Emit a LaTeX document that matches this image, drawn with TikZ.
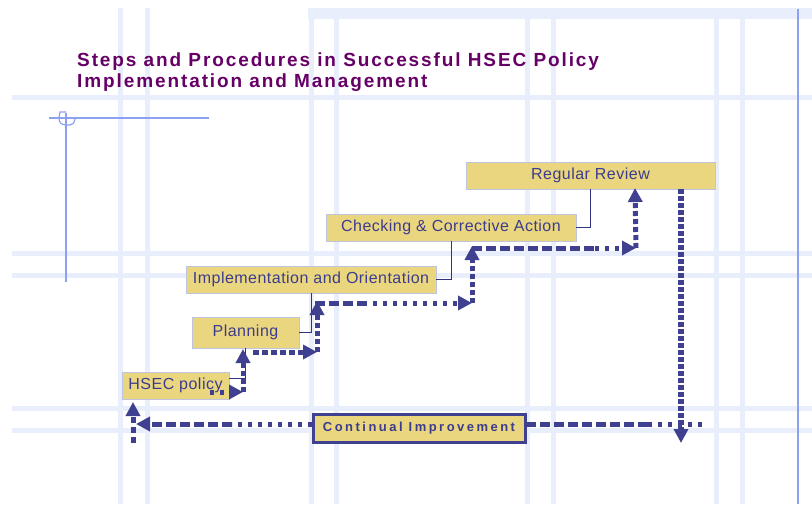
\documentclass[tikz,border=0pt]{standalone}
\usepackage{fontspec}
\setmainfont{Liberation Sans}
\newfontfamily\titlefont{Liberation Sans}[LetterSpace=10]
\newfontfamily\boxfont{Liberation Sans}[LetterSpace=3]
\newfontfamily\widefont{Liberation Sans}[LetterSpace=19]
\usetikzlibrary{arrows.meta}
\definecolor{gridcol}{RGB}{233,238,252}
\definecolor{titlecol}{RGB}{102,0,102}
\definecolor{boxfill}{RGB}{235,214,128}
\definecolor{boxborder}{RGB}{190,196,222}
\definecolor{boxtext}{RGB}{60,60,140}
\definecolor{arrowcol}{RGB}{64,64,144}
\definecolor{thincol}{RGB}{50,50,130}
\definecolor{markcol}{RGB}{140,162,240}
\tikzset{
  gridline/.style={draw=gridcol, line width=5pt},
  stepbox/.style={draw=boxborder, fill=boxfill, line width=0.8pt, text=boxtext,
    font=\boxfont\fontsize{16}{18}\selectfont, inner sep=0pt, minimum height=27pt},
  thinconn/.style={draw=thincol, line width=1pt},
  thk/.style={draw=arrowcol, line width=5pt},
  tip/.style={-{Triangle[width=14pt,length=14pt]}},
  longdash/.style={dash pattern=on 10pt off 4pt},
  dotpat/.style={dash pattern=on 4pt off 6pt},
  vdash/.style={dash pattern=on 5pt off 3pt},
  sqdot/.style={dash pattern=on 6pt off 3pt},
  marker/.style={draw=markcol, line width=1.2pt},
  titletext/.style={anchor=base west, text=titlecol, inner sep=0pt,
    font=\titlefont\bfseries\fontsize{19}{22}\selectfont}
}
\begin{document}
\begin{tikzpicture}[x=1pt,y=-1pt]
\useasboundingbox (0,0) rectangle (812,504);
% background grid
\fill[gridcol] (308,8) rectangle (812,19);
\foreach \x in {120,147} \draw[gridline] (\x,8) -- (\x,504);
\foreach \x in {311,336,527,553,716,742} \draw[gridline] (\x,19) -- (\x,504);
\foreach \y in {97,253,275,408,430} \draw[gridline] (12,\y) -- (812,\y);
\draw[draw=markcol, line width=1.2pt] (798,9) -- (798,504);
% left marker
\draw[marker] (49,118) -- (209,118);
\draw[marker] (66,113) -- (66,282);
\draw[marker] (66,112) -- (60,112) -- (59,118) .. controls (59,122) and (61,125) .. (66,125) -- (70,125) .. controls (73,125) and (75,122) .. (75,119);
% title
\node[titletext] (title1) at (77,66) {Steps and Procedures in Successful HSEC Policy};
\node[titletext] (title2) at (77,87) {Implementation and Management};
% step boxes
\node[stepbox, minimum width=107pt] (hsec) at (175.5,385.5) {HSEC policy};
\node[stepbox, minimum width=107pt, minimum height=31pt] (planning) at (245.5,332.5) {Planning};
\node[stepbox, minimum width=250pt] (impl) at (311,279.5) {Implementation and Orientation};
\node[stepbox, minimum width=250pt] (check) at (451,227.5) {Checking \& Corrective Action};
\node[stepbox, minimum width=249pt] (review) at (590.5,175.5) {Regular Review};
% thin connectors
\draw[thinconn] (planning.south) |- ([yshift=7pt]hsec.east);
\draw[thinconn] (impl.south) |- (planning.east);
\draw[thinconn] (check.south) |- (impl.east);
\draw[thinconn] (review.south) |- (check.east);
% staircase coordinates
\coordinate (a1) at (210,392);
\coordinate (a2) at (243,392);
\coordinate (a3) at (243,349);
\coordinate (b1) at (253,352);
\coordinate (b2) at (317,352);
\coordinate (b3) at (317,301);
\coordinate (c1) at (315,303);
\coordinate (c2) at (363,303);
\coordinate (c3) at (472,303);
\coordinate (c4) at (472,246);
\coordinate (d1) at (472,248);
\coordinate (d2) at (595,248);
\coordinate (d3) at (636,248);
\coordinate (d4) at (635,188);
% staircase arrows
\draw[thk, dotpat, tip] (a1) -- (a2);
\draw[thk, vdash, tip] (a2) -- (a3);
\draw[thk, sqdot, tip] (b1) -- (b2);
\draw[thk, vdash, tip] (b2) -- (b3);
\draw[thk, longdash] (c1) -- (c2);
\draw[thk, dotpat, tip] (c2) -- (c3);
\draw[thk, vdash, tip] (c3) -- (c4);
\draw[thk, longdash] (d1) -- (d2);
\draw[thk, dotpat, tip] (d2) -- (d3);
\draw[thk, vdash, tip] (d3) -- (d4);
% feedback loop
\coordinate (r1) at (681,189);
\coordinate (r2) at (681,443);
\draw[draw=arrowcol, line width=6pt, dash pattern=on 5pt off 2pt, tip] (r1) -- (r2);
\coordinate (e1) at (702,424);
\coordinate (e2) at (648,424);
\coordinate (e3) at (520,424);
\coordinate (e4) at (312,424);
\coordinate (e5) at (232,424);
\coordinate (e6) at (136,424);
\draw[thk, dotpat] (e1) -- (e2);
\draw[thk, longdash] (e2) -- (e3);
\draw[thk, dotpat] (e4) -- (e5);
\draw[thk, longdash, tip] (e5) -- (e6);
\coordinate (f1) at (133,443);
\coordinate (f2) at (133,402);
\draw[thk, dash pattern=on 6pt off 4pt, tip] (f1) -- (f2);
% continual improvement
\node[draw=arrowcol, line width=3pt, fill=boxfill, text=boxtext, inner sep=0pt,
  minimum width=212pt, minimum height=28pt,
  font=\widefont\bfseries\fontsize{13}{15}\selectfont] (ci) at (419,428) {Continual Improvement};
\end{tikzpicture}
\end{document}
